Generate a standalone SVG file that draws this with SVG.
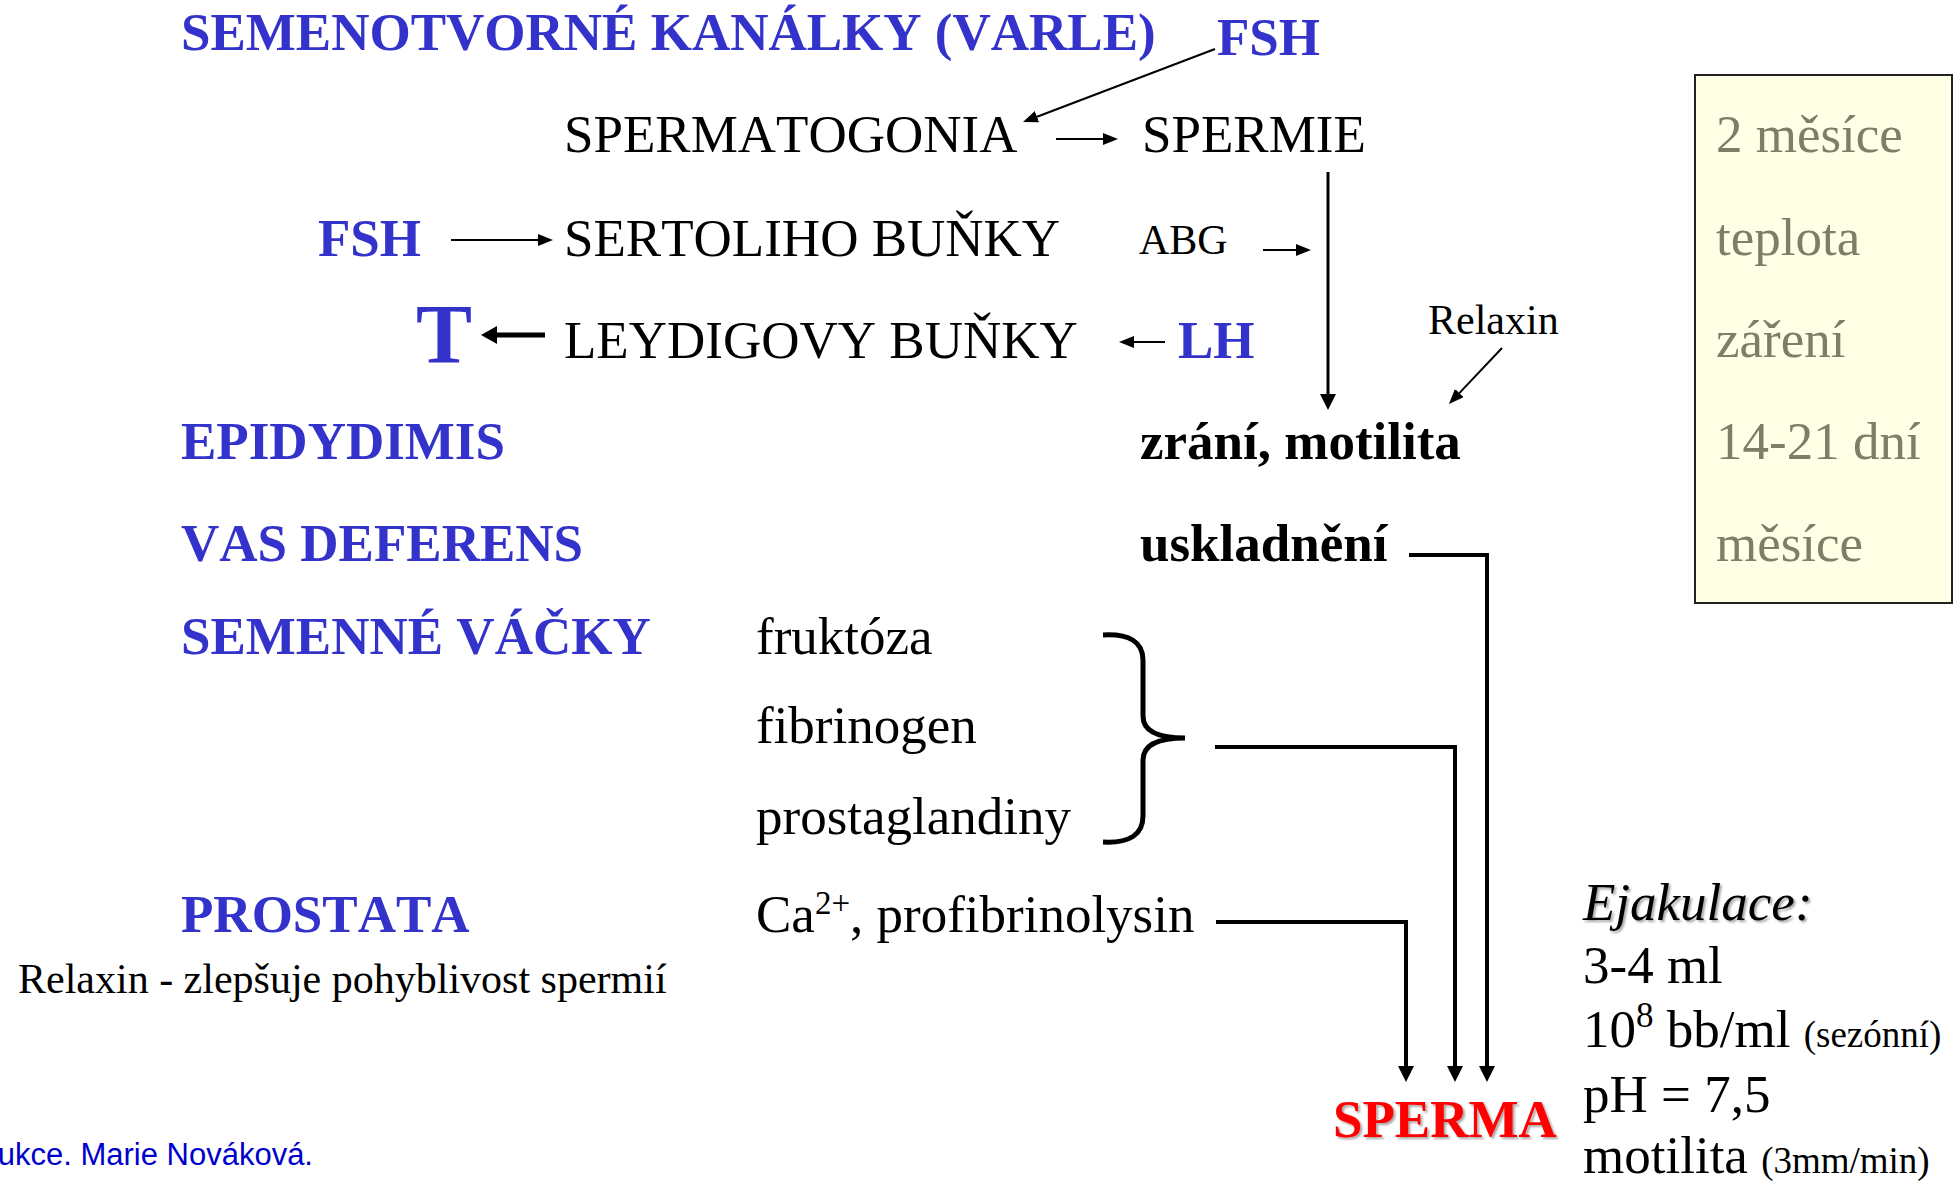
<svg xmlns="http://www.w3.org/2000/svg" width="1955" height="1182" viewBox="0 0 1955 1182">
<style>
  text { font-family: "Liberation Serif", "Times New Roman", serif; font-size: 53px; fill: #000; font-kerning: none; }
  .blue { fill: #3333CC; font-weight: bold; }
  .bold { font-weight: bold; }
  .small { font-size: 42px; }
  .gray { fill: #7d7d68; }
  .red { fill: #FF0000; font-weight: bold; }
  .foot { font-family: "Liberation Sans", Arial, sans-serif; font-size: 31px; fill: #0000CC; }
  .c1 { stroke: #000; stroke-width: 2; fill: none; }
  .c3 { stroke: #000; stroke-width: 3; fill: none; }
  .c4 { stroke: #000; stroke-width: 4; fill: none; }
  .c5 { stroke: #000; stroke-width: 5; fill: none; }
</style>
<defs>
  <marker id="ahS" viewBox="0 -6 15 12" markerWidth="15" markerHeight="12" refX="0" refY="0" orient="auto" markerUnits="userSpaceOnUse">
    <path d="M0,-6 L15,0 L0,6 z" fill="#000"/>
  </marker>
  <marker id="ahB" viewBox="0 -8 16 16" markerWidth="16" markerHeight="16" refX="0" refY="0" orient="auto" markerUnits="userSpaceOnUse">
    <path d="M0,-8 L16,0 L0,8 z" fill="#000"/>
  </marker>
  <marker id="ahT" viewBox="0 -9 16 18" markerWidth="16" markerHeight="18" refX="0" refY="0" orient="auto" markerUnits="userSpaceOnUse">
    <path d="M0,-9 L16,0 L0,9 z" fill="#000"/>
  </marker>
  <filter id="sh" x="-5%" y="-20%" width="115%" height="150%">
    <feDropShadow dx="2" dy="2" stdDeviation="1.2" flood-color="#000" flood-opacity="0.35"/>
  </filter>
</defs>

<rect width="1955" height="1182" fill="#FFFFFF"/>

<g id="box-factors">
  <rect x="1695" y="75" width="257" height="528" fill="#FFFFE6" stroke="#222" stroke-width="2"/>
  <text class="gray" x="1716" y="152">2 měsíce</text>
  <text class="gray" x="1716" y="255">teplota</text>
  <text class="gray" x="1716" y="357">záření</text>
  <text class="gray" x="1716" y="459">14-21 dní</text>
  <text class="gray" x="1716" y="561">měsíce</text>
</g>

<g id="title"><text class="blue" x="181" y="50">SEMENOTVORNÉ KANÁLKY (VARLE)</text></g>
<g id="fsh-top"><text class="blue" x="1217" y="55">FSH</text></g>
<g id="spermatogonia"><text x="564" y="152">SPERMATOGONIA</text></g>
<g id="spermie"><text x="1142" y="152">SPERMIE</text></g>
<g id="fsh-left"><text class="blue" x="318" y="256">FSH</text></g>
<g id="sertoli"><text x="564" y="256">SERTOLIHO BUŇKY</text></g>
<g id="abg"><text class="small" x="1139" y="254">ABG</text></g>
<g id="testosteron"><text class="blue" x="416" y="363" style="font-size:84px">T</text></g>
<g id="leydig"><text x="564" y="358">LEYDIGOVY BUŇKY</text></g>
<g id="lh"><text class="blue" x="1178" y="358">LH</text></g>
<g id="relaxin-top"><text class="small" x="1428" y="334">Relaxin</text></g>
<g id="epididymis"><text class="blue" x="181" y="459">EPIDYDIMIS</text></g>
<g id="zrani"><text class="bold" x="1140" y="459">zrání, motilita</text></g>
<g id="vas"><text class="blue" x="181" y="561">VAS DEFERENS</text></g>
<g id="uskladneni"><text class="bold" x="1140" y="561">uskladnění</text></g>
<g id="vacky"><text class="blue" x="181" y="654">SEMENNÉ VÁČKY</text></g>
<g id="vacky-items">
  <text x="756" y="654">fruktóza</text>
  <text x="756" y="743">fibrinogen</text>
  <text x="756" y="834">prostaglandiny</text>
  <path d="M1103,635 Q1143,633 1143,660 L1143,716 Q1143,738 1185,738 Q1143,738 1143,760 L1143,816 Q1143,844 1103,842" class="c5"/>
</g>
<g id="prostata"><text class="blue" x="181" y="932">PROSTATA</text></g>
<g id="prostata-items"><text x="756" y="932">Ca<tspan font-size="33" dy="-18">2+</tspan><tspan dy="18">, profibrinolysin</tspan></text></g>
<g id="relaxin-note"><text class="small" x="18" y="993">Relaxin - zlepšuje pohyblivost spermií</text></g>
<g id="sperma"><text class="red" x="1333" y="1137" filter="url(#sh)">SPERMA</text></g>
<g id="ejakulace">
  <text x="1583" y="920" font-style="italic" filter="url(#sh)">Ejakulace:</text>
  <text x="1583" y="983">3-4 ml</text>
  <text x="1583" y="1047">10<tspan font-size="35" dy="-20">8</tspan><tspan dy="20"> bb/ml </tspan><tspan font-size="37">(sezónní)</tspan></text>
  <text x="1583" y="1112">pH = 7,5</text>
  <text x="1583" y="1173">motilita <tspan font-size="37">(3mm/min)</tspan></text>
</g>
<g id="footer"><text class="foot" x="313" y="1165" text-anchor="end">ukce. Marie Nováková.</text></g>

<g id="connectors">
  <line x1="1215" y1="49" x2="1037" y2="116.7" class="c1" marker-end="url(#ahS)"/>
  <line x1="1056" y1="139" x2="1103" y2="139" class="c1" marker-end="url(#ahS)"/>
  <line x1="451" y1="240" x2="538" y2="240" class="c1" marker-end="url(#ahS)"/>
  <line x1="1263" y1="250" x2="1296" y2="250" class="c1" marker-end="url(#ahS)"/>
  <line x1="1165" y1="342" x2="1134" y2="342" class="c1" marker-end="url(#ahS)"/>
  <line x1="545" y1="335" x2="497" y2="335" class="c5" marker-end="url(#ahT)"/>
  <line x1="1328" y1="172" x2="1328" y2="394" class="c3" marker-end="url(#ahB)"/>
  <line x1="1502" y1="348" x2="1459.3" y2="393.1" class="c1" marker-end="url(#ahS)"/>
  <polyline points="1409,555 1487,555 1487,1066" class="c4" marker-end="url(#ahB)"/>
  <polyline points="1215,747 1455,747 1455,1066" class="c4" marker-end="url(#ahB)"/>
  <polyline points="1216,922 1406,922 1406,1066" class="c4" marker-end="url(#ahB)"/>
</g>
</svg>
